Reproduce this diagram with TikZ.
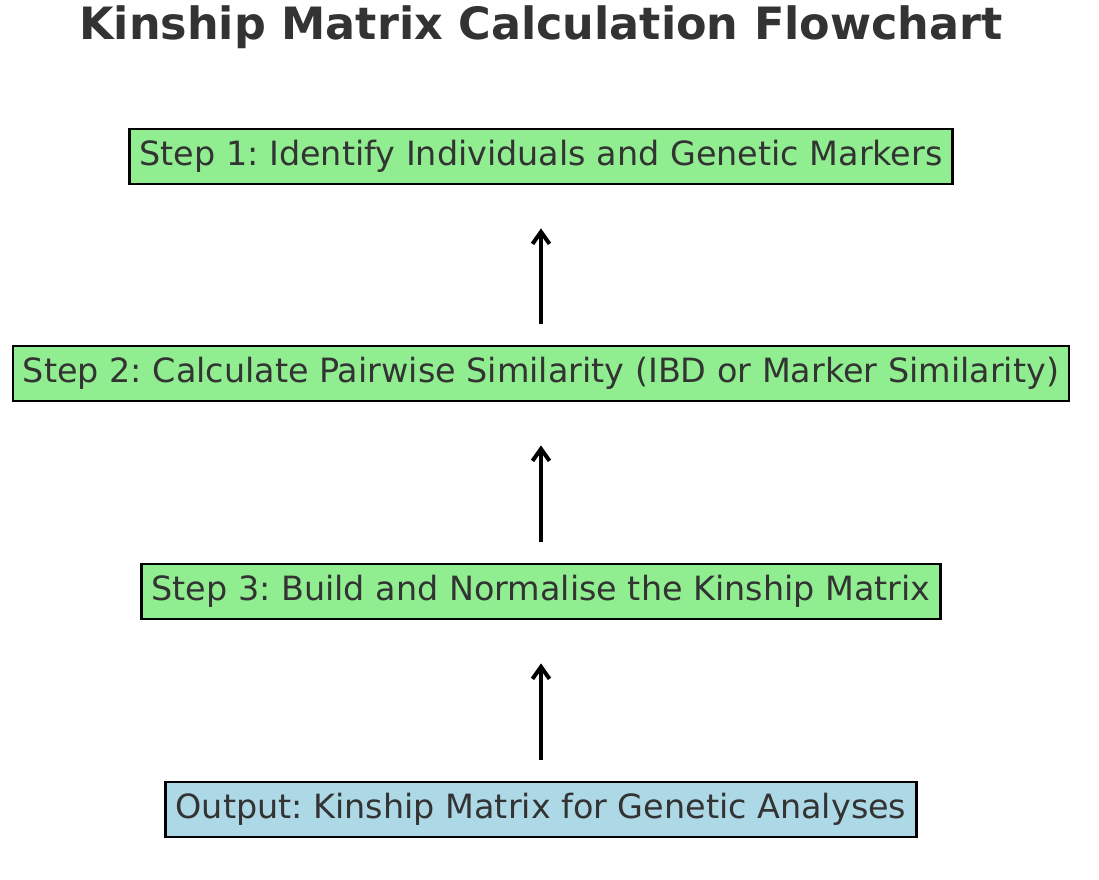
\documentclass[tikz,border=0pt]{standalone}
\usepackage{fontspec}
\setmainfont{DejaVu Sans}
\usetikzlibrary{arrows.meta}
\frenchspacing
\definecolor{boxgreen}{HTML}{90EE90}
\definecolor{boxblue}{HTML}{ADD8E6}
\definecolor{txt}{HTML}{333333}
\tikzset{
  stepbox/.style={draw=black, line width=2.8pt, fill=boxgreen, text=txt,
    inner xsep=10pt, inner ysep=0pt, minimum height=55pt,
    font=\fontsize{33.4}{40}\selectfont},
  outbox/.style={stepbox, fill=boxblue},
  arr/.style={-{Straight Barb[length=12pt,width=17pt,line width=4pt]}, line width=4pt, black},
}
\begin{document}
\begin{tikzpicture}[x=1pt,y=-1pt]
\useasboundingbox (0,0) rectangle (1099,879);
\node[text=txt, font=\bfseries\fontsize{44.5}{52}\selectfont] (title) at (541,27) {Kinship Matrix Calculation Flowchart};
\node[stepbox] (s1) at (541,156.5) {Step 1: Identify Individuals and Genetic Markers};
\node[stepbox] (s2) at (541,373.5) {Step 2: Calculate Pairwise Similarity (IBD or Marker Similarity)};
\node[stepbox] (s3) at (541,591.5) {Step 3: Build and Normalise the Kinship Matrix};
\node[outbox] (out) at (541,809.5) {Output: Kinship Matrix for Genetic Analyses};
\draw[arr, shorten <=21pt, shorten >=43pt] (s2.north) -- (s1.south);
\draw[arr, shorten <=21pt, shorten >=43pt] (s3.north) -- (s2.south);
\draw[arr, shorten <=21pt, shorten >=43pt] (out.north) -- (s3.south);
\end{tikzpicture}
\end{document}
